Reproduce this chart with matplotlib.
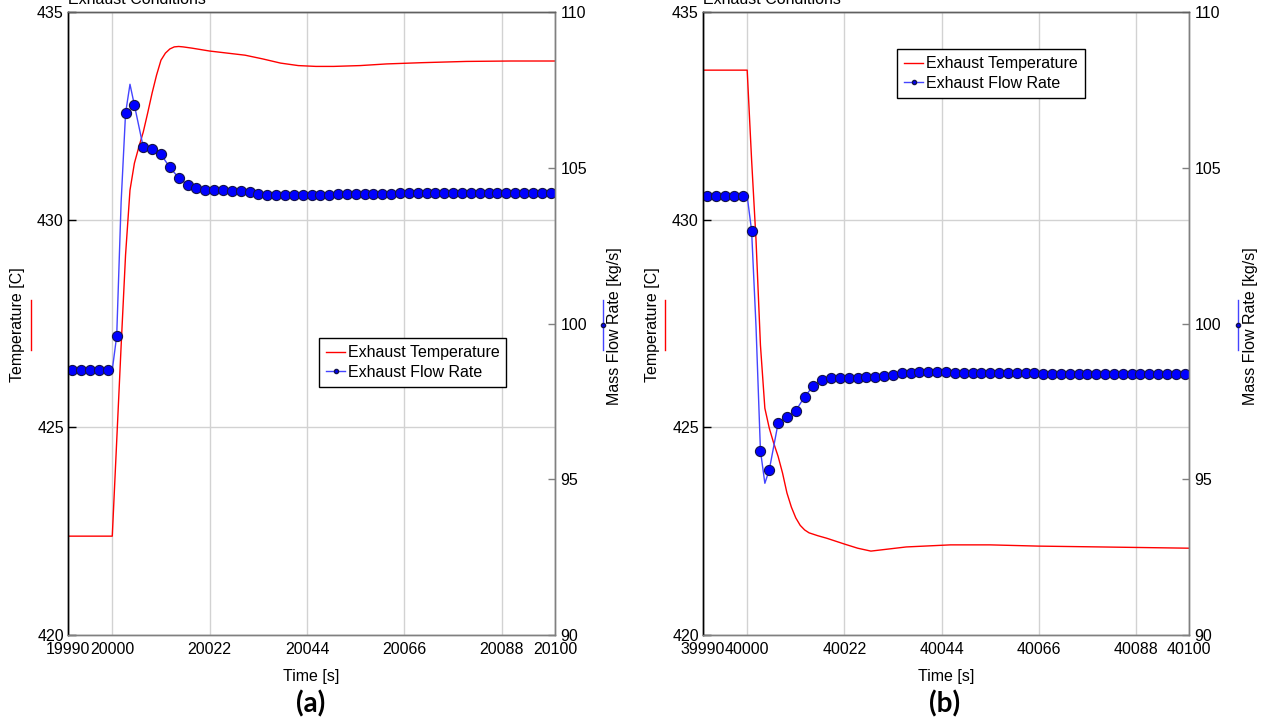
import matplotlib
matplotlib.use('Agg')
import matplotlib.pyplot as plt
from matplotlib.lines import Line2D

plt.rcParams['font.family'] = ['Liberation Sans', 'DejaVu Sans']

# ---------------- data: panel (a) ----------------
temp_a_t = [19990, 20000, 20001, 20002, 20003, 20004, 20005, 20006, 20007, 20008,
            20009, 20010, 20011, 20012, 20013, 20014, 20015, 20016, 20018, 20022,
            20026, 20030, 20034, 20038, 20042, 20046, 20050, 20056, 20062, 20070,
            20080, 20090, 20100]
temp_a_v = [422.38, 422.38, 424.67, 426.96, 429.15, 430.71, 431.36, 431.75, 432.11, 432.57,
            433.05, 433.48, 433.84, 434.01, 434.11, 434.16, 434.17, 434.16, 434.13, 434.06,
            434.01, 433.96, 433.87, 433.77, 433.71, 433.69, 433.69, 433.71, 433.75, 433.78,
            433.81, 433.82, 433.82]

flow_a_mark_t = list(range(19991, 20100, 2))
flow_a_mark_v = [98.51, 98.51, 98.51, 98.51, 98.51, 99.60, 106.75, 107.01, 105.66, 105.59,
                 105.43, 105.01, 104.68, 104.45, 104.34, 104.30, 104.28, 104.27, 104.26, 104.25,
                 104.23, 104.15, 104.13, 104.13, 104.13, 104.13, 104.13, 104.13, 104.14, 104.14,
                 104.15, 104.15, 104.16, 104.16, 104.17, 104.17, 104.17, 104.18, 104.18, 104.18,
                 104.18, 104.18, 104.19, 104.19, 104.19, 104.19, 104.19, 104.19, 104.19, 104.19,
                 104.19, 104.19, 104.19, 104.19, 104.19]
# line-only samples between markers
flow_a_extra_t = [19990, 20000, 20002, 20004, 20100]
flow_a_extra_v = [98.51, 98.51, 103.90, 107.68, 104.19]

xticks_a = [19990, 20000, 20022, 20044, 20066, 20088, 20100]

# ---------------- data: panel (b) ----------------
temp_b_t = [39990, 40000, 40001, 40002, 40003, 40004, 40005, 40006, 40007, 40008,
            40009, 40010, 40011, 40012, 40013, 40014, 40016, 40018, 40020, 40022, 40025,
            40028, 40032, 40036, 40040, 40046, 40055, 40066, 40080, 40100]
temp_b_v = [433.60, 433.60, 431.44, 429.51, 426.98, 425.46, 424.98, 424.62, 424.30, 423.90,
            423.42, 423.08, 422.82, 422.64, 422.53, 422.46, 422.39, 422.33, 422.26, 422.19, 422.09,
            422.02, 422.07, 422.12, 422.14, 422.17, 422.17, 422.14, 422.12, 422.09]

flow_b_mark_t = list(range(39991, 40100, 2))
flow_b_mark_v = [104.09, 104.09, 104.09, 104.09, 104.09, 102.98, 95.92, 95.30, 96.80, 97.01,
                 97.20, 97.65, 98.00, 98.19, 98.26, 98.26, 98.26, 98.26, 98.27, 98.29,
                 98.31, 98.36, 98.40, 98.42, 98.44, 98.44, 98.44, 98.43, 98.42, 98.42,
                 98.41, 98.41, 98.41, 98.40, 98.40, 98.40, 98.40, 98.40, 98.39, 98.39,
                 98.39, 98.39, 98.39, 98.39, 98.39, 98.38, 98.38, 98.38, 98.38, 98.38,
                 98.38, 98.38, 98.38, 98.38, 98.38]
flow_b_extra_t = [39990, 40000, 40002, 40004, 40100]
flow_b_extra_v = [104.09, 104.09, 99.90, 94.87, 98.38]

xticks_b = [39990, 40000, 40022, 40044, 40066, 40088, 40100]

legend_labels = ['Exhaust Temperature', 'Exhaust Flow Rate']
panel_labels = ['(a)', '(b)']

# ---------------- styling ----------------
W, H = 1267, 724
RED = '#ff0000'
BLUE_LINE = '#4444ff'
BLUE_MK = '#0000ff'
BLUE_EDGE = '#15154a'
GRID = '#d2d2d2'
FS = 11.5

fig = plt.figure(figsize=(W / 100, H / 100), dpi=100)


def fx(x):
    return x / W


def fy(y):
    return 1 - y / H


def panel(left_px, right_px, t_temp, v_temp, mk_t, mk_v, ex_t, ex_v, xticks,
          legend_xy, lab_left_px, lab_right_px, plabel):
    top_px, bot_px = 12, 635
    ax = fig.add_axes([fx(left_px), fy(bot_px), (right_px - left_px) / W, (bot_px - top_px) / H])
    ax.set_xlim(xticks[0], xticks[-1])
    ax.set_ylim(420, 435)
    ax.set_yticks([420, 425, 430, 435])
    ax.set_xticks(xticks)
    ax.set_xticklabels([str(t) for t in xticks])
    ax.grid(True, color=GRID, lw=1)
    ax.set_axisbelow(True)
    ax.tick_params(axis='y', direction='in', length=6, width=1, color='black',
                   labelsize=FS, pad=3)
    ax.tick_params(axis='x', length=0, labelsize=FS, pad=5)
    ax.plot(t_temp, v_temp, color=RED, lw=1)

    ax2 = ax.twinx()
    ax2.set_ylim(90, 110)
    ax2.set_yticks([90, 95, 100, 105, 110])
    ax2.tick_params(axis='y', direction='in', length=5, width=1, color='#808080',
                    labelsize=FS, pad=4)
    pts = sorted(zip(list(mk_t) + list(ex_t), list(mk_v) + list(ex_v)))
    ax2.plot([p[0] for p in pts], [p[1] for p in pts], color=BLUE_LINE, lw=1)
    ax2.plot(mk_t, mk_v, ls='none', marker='o', ms=7.3, mfc=BLUE_MK, mec=BLUE_EDGE, mew=0.8)

    for a in (ax, ax2):
        a.spines['left'].set_color('black')
        a.spines['top'].set_color('#606060')
        a.spines['bottom'].set_color('#808080')
        a.spines['right'].set_color('#808080')
        for s in a.spines.values():
            s.set_linewidth(1)

    handles = [Line2D([], [], color=RED, lw=1),
               Line2D([], [], color=BLUE_LINE, lw=1, marker='o', ms=3,
                      mfc=BLUE_MK, mec=BLUE_EDGE)]
    leg = ax2.legend(handles, legend_labels, loc='upper left', bbox_to_anchor=legend_xy,
                     frameon=True, fancybox=False, edgecolor='black', framealpha=1,
                     fontsize=FS, handlelength=1.2, handletextpad=0.15, borderpad=0.45,
                     labelspacing=0.3, borderaxespad=0)
    leg.get_frame().set_linewidth(1)

    cx = (left_px + right_px) / 2
    fig.text(fx(cx), fy(677), 'Time [s]', ha='center', va='center', fontsize=FS)
    fig.text(fx(cx - 1), fy(704), plabel, ha='center', va='center', fontsize=20,
             fontweight='bold', family=['Lato', 'DejaVu Sans'])
    fig.text(fx(left_px), fy(4), 'Exhaust Conditions', ha='left', va='baseline', fontsize=FS)

    # left axis label with key
    fig.text(fx(lab_left_px), fy(325), 'Temperature [C]', rotation=90, ha='center',
             va='center', fontsize=FS)
    fig.add_artist(Line2D([fx(lab_left_px + 13)] * 2, [fy(300), fy(350)],
                          color=RED, lw=1))
    # right axis label with key
    fig.text(fx(lab_right_px), fy(326), 'Mass Flow Rate [kg/s]', rotation=90, ha='center',
             va='center', fontsize=FS)
    fig.add_artist(Line2D([fx(lab_right_px - 12)] * 2, [fy(300), fy(350)],
                          color=BLUE_LINE, lw=1))
    fig.add_artist(Line2D([fx(lab_right_px - 12)], [fy(325)], ls='none', marker='o',
                          ms=3, mfc=BLUE_MK, mec=BLUE_EDGE))
    return ax, ax2


panel(68, 555, temp_a_t, temp_a_v, flow_a_mark_t, flow_a_mark_v,
      flow_a_extra_t, flow_a_extra_v, xticks_a, (0.515, 0.4767), 18, 615, panel_labels[0])
panel(703, 1189, temp_b_t, temp_b_v, flow_b_mark_t, flow_b_mark_v,
      flow_b_extra_t, flow_b_extra_v, xticks_b, (0.399, 0.9406), 652, 1250, panel_labels[1])

fig.savefig('out.png', dpi=100)
